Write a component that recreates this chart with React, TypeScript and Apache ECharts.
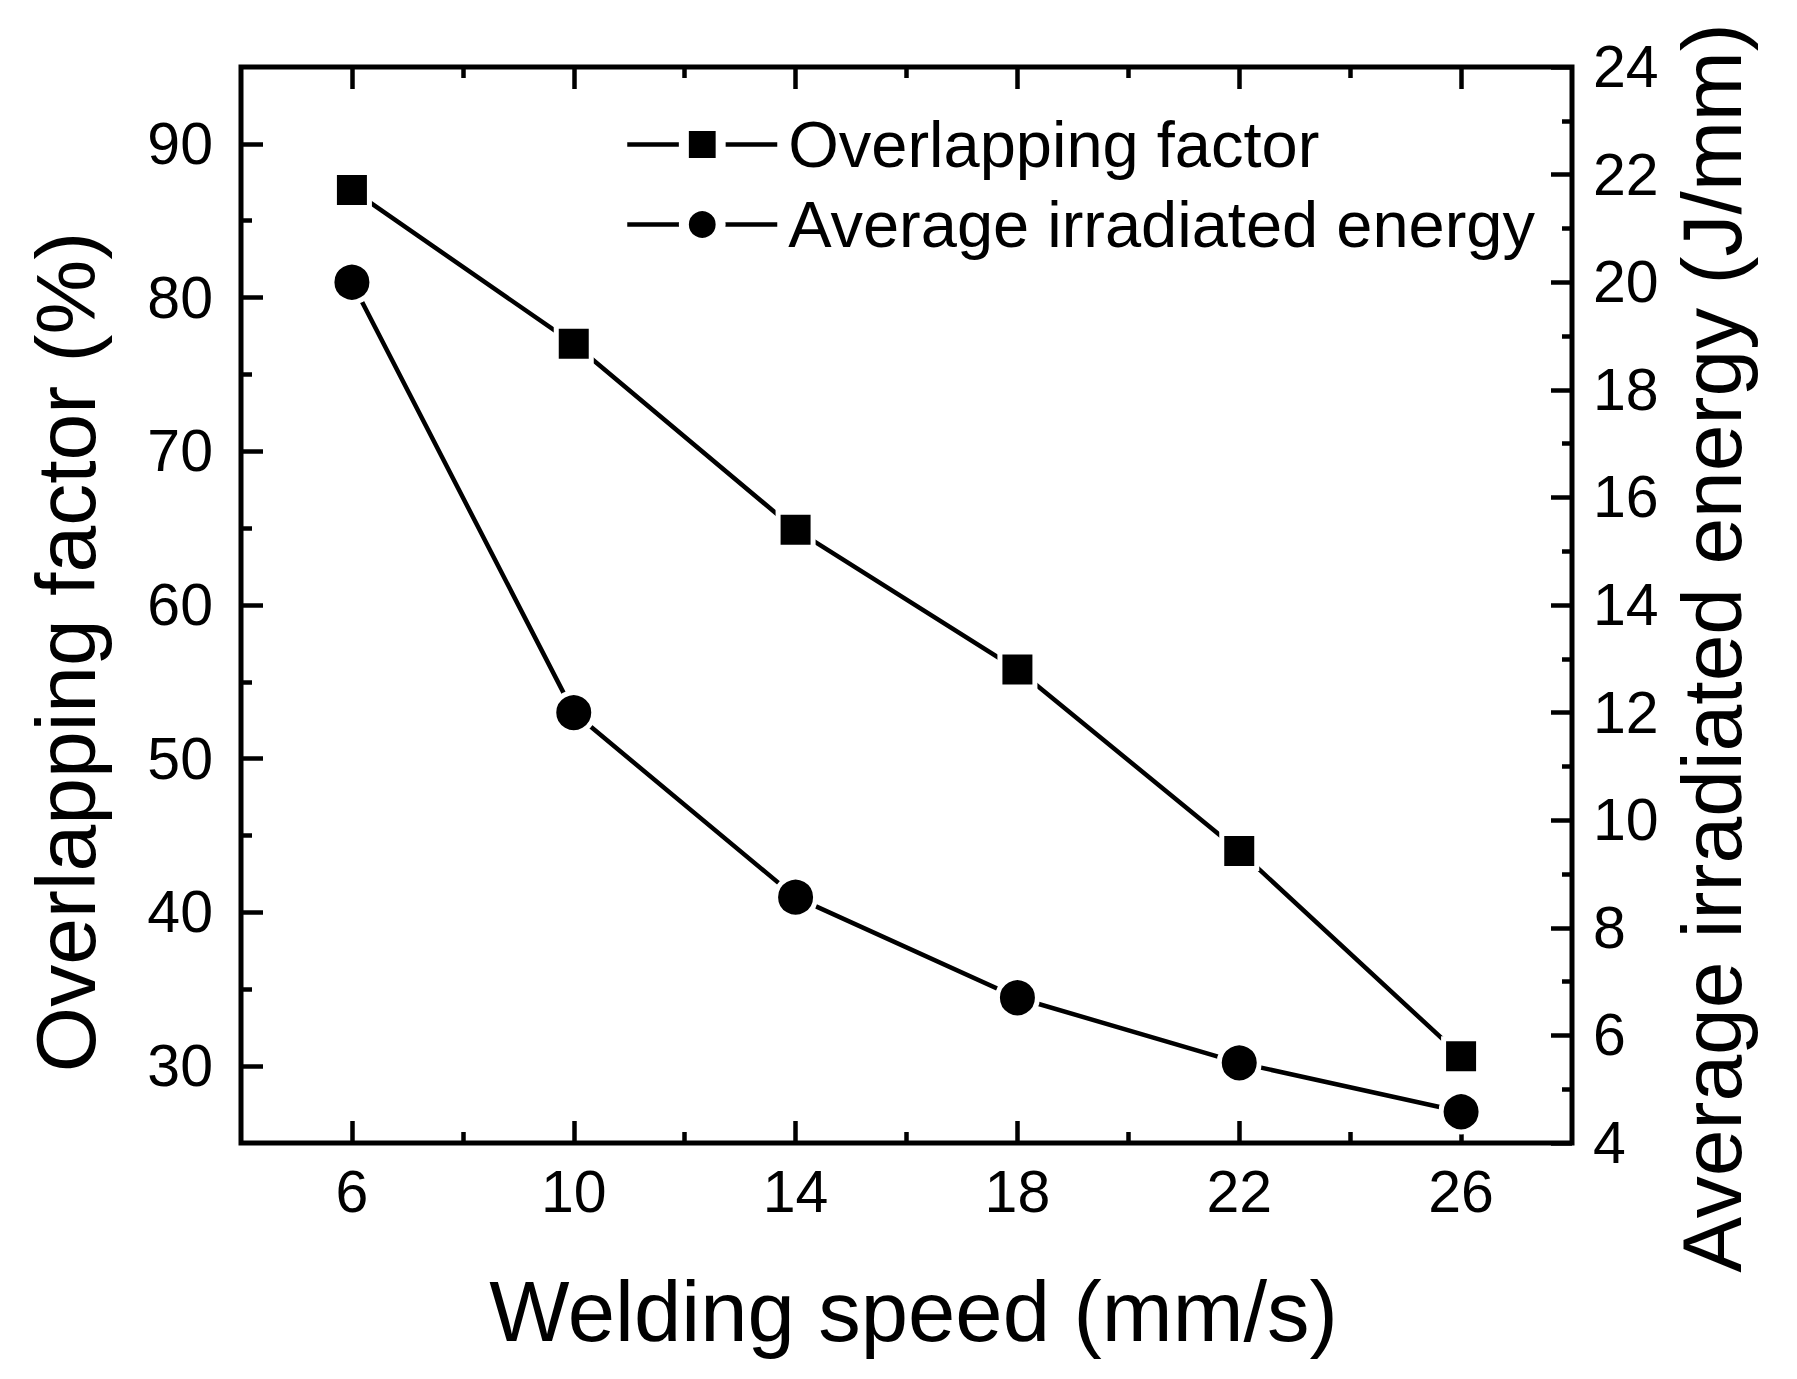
import React, { useEffect, useRef } from "react";
import * as echarts from "echarts";

// ---- data ----
const speeds = [6, 10, 14, 18, 22, 26];
const overlappingFactor = [87.0, 77.0, 64.9, 55.8, 44.0, 30.65];
const irradiatedEnergy = [20.0, 12.0, 8.57, 6.7, 5.49, 4.58];
const seriesNames = ["Overlapping factor", "Average irradiated energy"];

// ---- tick values ----
const xMajorTicks = [6, 10, 14, 18, 22, 26];
const xMinorTicks = [8, 12, 16, 20, 24];
const leftMajorTicks = [30, 40, 50, 60, 70, 80, 90];
const leftMinorTicks = [35, 45, 55, 65, 75, 85];

const FONT = "'Liberation Sans', Arial, Helvetica, sans-serif";
const BLACK = "#000";

const tickStyle = { color: BLACK, width: 4.5 };

export default function App() {
  const ref = useRef<HTMLDivElement>(null);

  useEffect(() => {
    if (!ref.current) return;
    const chart = echarts.init(ref.current, null, { renderer: "svg" });

    const xBase = {
      type: "value",
      min: 4,
      max: 28,
      gridIndex: 0,
      splitLine: { show: false },
      axisLine: { show: false, onZero: false },
    };
    const yLeftBase = {
      type: "value",
      min: 25,
      max: 95,
      position: "left",
      splitLine: { show: false },
      axisLine: { show: false, onZero: false },
    };

    const option: any = {
      animation: false,
      backgroundColor: "#fff",
      grid: {
        left: 241,
        right: 225,
        top: 67,
        bottom: 236,
        show: true,
        borderColor: BLACK,
        borderWidth: 5,
        backgroundColor: "transparent",
        containLabel: false,
        outerBoundsMode: "none",
      },
      legend: {
        show: true,
        orient: "vertical",
        left: 620,
        top: 107,
        itemWidth: 150,
        itemHeight: 46,
        itemGap: 15,
        data: seriesNames,
        selectedMode: false,
        itemStyle: { borderColor: "#fff", borderWidth: 10 },
        lineStyle: { width: 4.5, color: BLACK },
        textStyle: {
          fontFamily: FONT,
          fontSize: 65,
          lineHeight: 64,
          color: BLACK,
          padding: [0, 0, 0, 6],
        },
      },
      xAxis: [
        {
          ...xBase,
          position: "bottom",
          name: "Welding speed (mm/s)",
          nameLocation: "middle",
          nameGap: 126,
          nameTextStyle: {
            fontFamily: FONT,
            fontSize: 85,
            color: BLACK,
            padding: [0, 0, 0, 14],
          },
          axisTick: {
            show: true,
            inside: true,
            length: 22,
            customValues: xMajorTicks,
            lineStyle: tickStyle,
          },
          axisLabel: {
            show: true,
            customValues: xMajorTicks,
            margin: 19,
            fontFamily: FONT,
            fontSize: 59,
            color: BLACK,
          },
        },
        {
          ...xBase,
          position: "bottom",
          axisTick: {
            show: true,
            inside: true,
            length: 11,
            customValues: xMinorTicks,
            lineStyle: tickStyle,
          },
          axisLabel: { show: false },
        },
        {
          ...xBase,
          position: "top",
          axisTick: {
            show: true,
            inside: true,
            length: 22,
            customValues: xMajorTicks,
            lineStyle: tickStyle,
          },
          axisLabel: { show: false },
        },
        {
          ...xBase,
          position: "top",
          axisTick: {
            show: true,
            inside: true,
            length: 11,
            customValues: xMinorTicks,
            lineStyle: tickStyle,
          },
          axisLabel: { show: false },
        },
      ],
      yAxis: [
        {
          ...yLeftBase,
          name: "Overlapping factor (%)",
          nameLocation: "middle",
          nameRotate: 90,
          nameGap: 133,
          nameTextStyle: {
            fontFamily: FONT,
            fontSize: 84,
            color: BLACK,
            padding: [0, 94, 0, 0],
          },
          axisTick: {
            show: true,
            inside: true,
            length: 22,
            customValues: leftMajorTicks,
            lineStyle: tickStyle,
          },
          axisLabel: {
            show: true,
            customValues: leftMajorTicks,
            margin: 28,
            fontFamily: FONT,
            fontSize: 59,
            color: BLACK,
          },
        },
        {
          ...yLeftBase,
          axisTick: {
            show: true,
            inside: true,
            length: 11,
            customValues: leftMinorTicks,
            lineStyle: tickStyle,
          },
          axisLabel: { show: false },
        },
        {
          type: "value",
          min: 4,
          max: 24,
          interval: 2,
          position: "right",
          splitLine: { show: false },
          axisLine: { show: false, onZero: false },
          name: "Average irradiated energy (J/mm)",
          nameLocation: "middle",
          nameRotate: 90,
          nameGap: 96,
          nameTextStyle: {
            fontFamily: FONT,
            fontSize: 84,
            color: BLACK,
            padding: [0, 86, 0, 0],
          },
          axisTick: {
            show: true,
            inside: true,
            length: 21,
            lineStyle: tickStyle,
          },
          minorTick: {
            show: true,
            splitNumber: 2,
            length: 10,
            lineStyle: tickStyle,
          },
          minorSplitLine: { show: false },
          axisLabel: {
            show: true,
            margin: 21,
            fontFamily: FONT,
            fontSize: 59,
            color: BLACK,
          },
        },
      ],
      series: [
        {
          type: "line",
          name: seriesNames[0],
          xAxisIndex: 0,
          yAxisIndex: 0,
          data: speeds.map((s, i) => [s, overlappingFactor[i]]),
          symbol: "rect",
          symbolSize: 35,
          showSymbol: true,
          silent: true,
          lineStyle: { color: BLACK, width: 4.5 },
          itemStyle: { color: BLACK, borderColor: "#fff", borderWidth: 5 },
          emphasis: { disabled: true },
          z: 3,
        },
        {
          type: "line",
          name: seriesNames[1],
          xAxisIndex: 0,
          yAxisIndex: 2,
          data: speeds.map((s, i) => [s, irradiatedEnergy[i]]),
          symbol: "circle",
          symbolSize: 40,
          showSymbol: true,
          silent: true,
          lineStyle: { color: BLACK, width: 4.5 },
          itemStyle: { color: BLACK, borderColor: "#fff", borderWidth: 5 },
          emphasis: { disabled: true },
          z: 3,
        },
      ],
    };

    chart.setOption(option);
    return () => {
      chart.dispose();
    };
  }, []);

  return (
    <div
      ref={ref}
      style={{
        position: "fixed",
        left: 0,
        top: 0,
        width: 1797,
        height: 1379,
        background: "#fff",
      }}
    />
  );
}
